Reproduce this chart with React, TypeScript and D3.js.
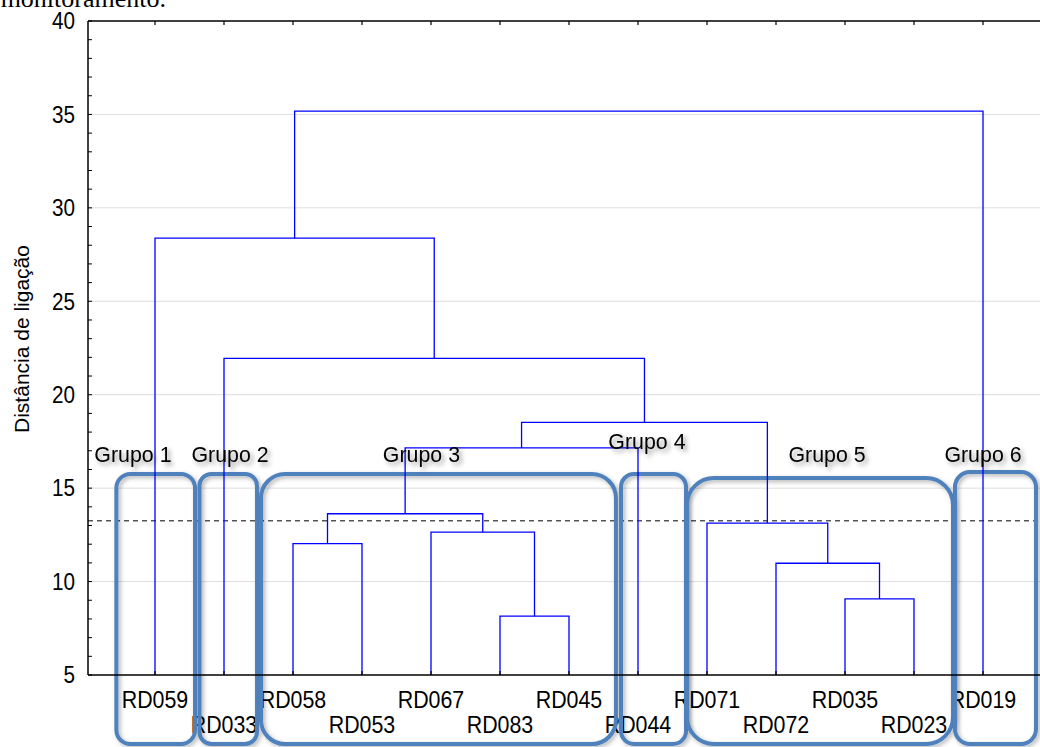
import React from "react";
import * as d3 from "d3";

// ---- Data ----
const leaves = ["RD059", "RD033", "RD058", "RD053", "RD067", "RD083", "RD045", "RD044", "RD071", "RD072", "RD035", "RD023", "RD019"];
// linkage: merge i joins mergeLeft[i] and mergeRight[i] at mergeHeight[i]; "m#" refers to an earlier merge
const mergeLeft = ["RD083", "RD035", "RD072", "RD058", "RD067", "RD071", "m3", "m6", "m7", "RD033", "RD059", "m10"];
const mergeRight = ["RD045", "RD023", "m1", "RD053", "m0", "m2", "m4", "RD044", "m5", "m8", "m9", "RD019"];
const mergeHeight = [8.15, 9.07, 10.98, 12.03, 12.65, 13.13, 13.63, 17.15, 18.52, 21.95, 28.38, 35.18];
const cutHeight = 13.25;
const yTicks = [5, 10, 15, 20, 25, 30, 35, 40];
const yMinorTicks = d3.range(5, 41, 1);

// group annotations (span in leaf-index units, top in axis units)
const groupNames = ["Grupo 1", "Grupo 2", "Grupo 3", "Grupo 4", "Grupo 5", "Grupo 6"];
const groupStart = [-0.56, 0.645, 1.536, 6.754, 7.71, 11.594];
const groupEnd = [0.58, 1.478, 6.68, 7.696, 11.565, 12.768];
const groupTop = [15.76, 15.76, 15.76, 15.76, 15.54, 15.86];
const groupLabelPos = [-0.32, 1.087, 3.862, 7.13, 9.74, 12.0];
const groupLabelY = [16.4, 16.4, 16.4, 17.09, 16.4, 16.4];
const groupRadius = [14, 12, 24, 13, 27, 15];

const W = 1040;
const H = 747;
const left = 88;
const top = 21;
const bottom = 675;
const FONT = "'Liberation Sans', Arial, Helvetica, sans-serif";
const BOXC = "#4f81bd";

function T(props: {
  x: number;
  y: number;
  size: number;
  sx: number;
  anchor?: string;
  dy?: string;
  filter?: string;
  children: React.ReactNode;
}) {
  return (
    <text
      transform={`translate(${props.x},${props.y}) scale(${props.sx},1)`}
      textAnchor={props.anchor || "middle"}
      dy={props.dy}
      fontSize={props.size}
      fill="#000"
      filter={props.filter}
    >
      {props.children}
    </text>
  );
}

export default function App() {
  const x = d3.scalePoint<string>().domain(leaves).range([155, 983]).padding(0);
  const xi = d3.scaleLinear().domain([0, leaves.length - 1]).range([155, 983]);
  const y = d3.scaleLinear().domain([5, 40]).range([bottom, top]);

  // compute node positions
  const pos: Record<string, { x: number; h: number }> = {};
  leaves.forEach((l) => (pos[l] = { x: x(l) as number, h: 5 }));
  const paths: string[] = [];
  mergeHeight.forEach((h, i) => {
    const a = pos[mergeLeft[i]];
    const b = pos[mergeRight[i]];
    const p = d3.path();
    p.moveTo(a.x, y(a.h));
    p.lineTo(a.x, y(h));
    p.lineTo(b.x, y(h));
    p.lineTo(b.x, y(b.h));
    paths.push(p.toString());
    pos["m" + i] = { x: (a.x + b.x) / 2, h };
  });

  return (
    <svg
      width={W}
      height={H}
      style={{ position: "absolute", left: 0, top: 0, background: "#fff" }}
      fontFamily={FONT}
    >
      <defs>
        <filter id="boxShadow" x="-20%" y="-20%" width="140%" height="140%">
          <feDropShadow dx="2" dy="2" stdDeviation="2" floodColor="#000" floodOpacity="0.3" />
        </filter>
        <filter id="textShadow" x="-20%" y="-40%" width="140%" height="180%">
          <feDropShadow dx="3" dy="3" stdDeviation="2.5" floodColor="#000" floodOpacity="0.4" />
        </filter>
      </defs>
      <rect width={W} height={H} fill="#fff" />

      {/* caption fragment */}
      <text x={166} y={7} textAnchor="end" fontFamily="'Liberation Serif', 'Times New Roman', serif" fontSize={26} fill="#000">
        monitoramento.
      </text>

      {/* grid */}
      {yTicks.filter((t) => t > 5 && t < 40).map((t) => (
        <line key={"g" + t} x1={left} x2={W} y1={y(t)} y2={y(t)} stroke="#dedede" strokeWidth={1} />
      ))}

      {/* cut line */}
      <line x1={left} x2={W} y1={y(cutHeight)} y2={y(cutHeight)} stroke="#000" strokeWidth={1} strokeDasharray="5,4" />

      {/* leaf labels */}
      {leaves.map((l, i) => (
        <T key={l} x={x(l) as number} y={i % 2 === 0 ? 708 : 733} size={23.5} sx={0.91}>
          {l}
        </T>
      ))}

      {/* group boxes */}
      {groupNames.map((g, i) => (
        <rect
          key={"b" + g}
          x={xi(groupStart[i])}
          y={y(groupTop[i])}
          width={xi(groupEnd[i]) - xi(groupStart[i])}
          height={744 - y(groupTop[i])}
          rx={groupRadius[i]}
          ry={groupRadius[i]}
          fill="none"
          stroke={BOXC}
          strokeWidth={4}
          filter="url(#boxShadow)"
        />
      ))}

      {/* dendrogram */}
      {paths.map((d, i) => (
        <path key={"p" + i} d={d} fill="none" stroke="#0000ff" strokeWidth={1.3} />
      ))}

      {/* axes */}
      <line x1={left} x2={left} y1={top} y2={bottom} stroke="#000" strokeWidth={1.5} />
      <line x1={left} x2={W} y1={top} y2={top} stroke="#000" strokeWidth={1.5} />
      <line x1={left} x2={W} y1={bottom} y2={bottom} stroke="#000" strokeWidth={1.5} />
      {yMinorTicks.map((t) => (
        <line key={"m" + t} x1={left} x2={left + 4} y1={y(t)} y2={y(t)} stroke="#000" strokeWidth={1} />
      ))}
      {leaves.map((l) => (
        <g key={"t" + l}>
          <line x1={x(l) as number} x2={x(l) as number} y1={top} y2={top + 4} stroke="#000" strokeWidth={1.2} />
          <line x1={x(l) as number} x2={x(l) as number} y1={bottom} y2={bottom - 4} stroke="#000" strokeWidth={1.2} />
        </g>
      ))}
      {yTicks.map((t) => (
        <T key={"yl" + t} x={75} y={y(t)} dy="0.36em" anchor="end" size={23} sx={0.9}>
          {t}
        </T>
      ))}
      <text
        transform={`translate(29, 339) rotate(-90)`}
        textAnchor="middle"
        fontSize={21}
        fill="#000"
      >
        Distância de ligação
      </text>

      {/* group labels */}
      {groupNames.map((g, i) => (
        <T
          key={"l" + g}
          x={xi(groupLabelPos[i])}
          y={y(groupLabelY[i])}
          size={22.5}
          sx={0.95}
          filter="url(#textShadow)"
        >
          {g}
        </T>
      ))}
    </svg>
  );
}
